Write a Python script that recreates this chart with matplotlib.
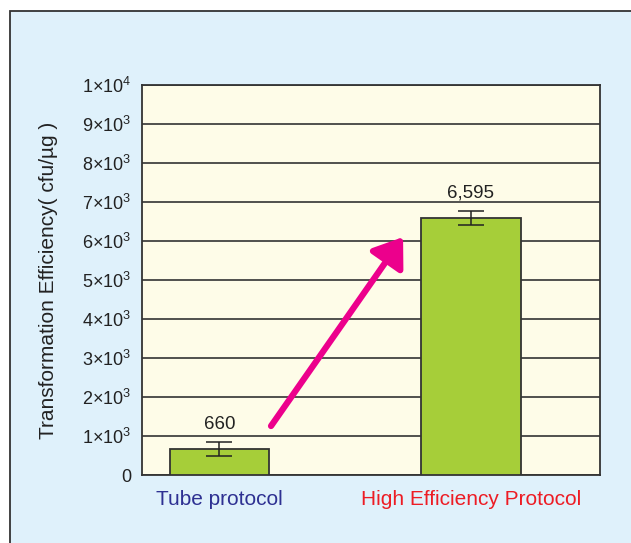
import matplotlib
matplotlib.use("Agg")
import matplotlib.pyplot as plt
from matplotlib.patches import Rectangle, FancyArrowPatch

plt.rcParams['font.family'] = ['Liberation Sans', 'DejaVu Sans']
plt.rcParams['mathtext.fontset'] = 'custom'
plt.rcParams['mathtext.rm'] = 'Liberation Sans'
plt.rcParams['mathtext.it'] = 'Liberation Sans:italic'

# data
categories = ["Tube protocol", "High Efficiency Protocol"]
values = [660, 6595]
errors = [185, 180]
value_labels = ["660", "6,595"]
cat_colors = ["#2E3192", "#ED1C24"]
yticks = [0, 1000, 2000, 3000, 4000, 5000, 6000, 7000, 8000, 9000, 10000]
ytick_labels = ["0"] + [r"$\mathregular{%d{\times}10^{3}}$" % i for i in range(1, 10)] + [r"$\mathregular{1{\times}10^{4}}$"]

W, H = 631, 543
fig = plt.figure(figsize=(W / 100, H / 100), dpi=100)
fig.patch.set_facecolor("white")

# light blue outer panel
fig.patches.append(Rectangle((10 / W, -0.05), 1.2, 1 - 11 / H + 0.05,
                             transform=fig.transFigure, facecolor="#DFF1FB",
                             edgecolor="#333333", linewidth=1.3, zorder=-1))

ax = fig.add_axes([142 / W, 1 - 475 / H, 458 / W, 390 / H])
ax.set_zorder(2)
ax.set_facecolor("#FEFCE8")

x = [0, 1]
ax.bar(x, values, width=0.395, color="#A6CE39", edgecolor="#333333",
       linewidth=1.3, zorder=3)
ax.errorbar(x, values, yerr=errors, fmt="none", ecolor="#222222",
            elinewidth=1.1, capsize=9.5, capthick=1.1, zorder=4)
for xi, v, e, lab in zip(x, values, errors, value_labels):
    ax.text(xi, v + e + 230, lab, ha="center", va="bottom", fontsize=13.5, color="#222222")

ax.set_xlim(-0.308, 1.513)
ax.set_ylim(0, 10000)
ax.set_yticks(yticks)
ax.set_yticklabels(ytick_labels, fontsize=13, color="#222222")
ax.tick_params(axis="y", length=0, pad=8)
ax.set_xticks(x)
ax.set_xticklabels(categories, fontsize=15)
for t, c in zip(ax.get_xticklabels(), cat_colors):
    t.set_color(c)
ax.tick_params(axis="x", length=0, pad=11)
ax.yaxis.grid(True, color="#333333", linewidth=1.2, zorder=1)
ax.set_axisbelow(True)
for s in ax.spines.values():
    s.set_color("#333333")
    s.set_linewidth(1.3)

ax.set_ylabel("Transformation Efficiency( cfu/µg )", fontsize=15, color="#222222", labelpad=17)

arrow = FancyArrowPatch((0.205, 1256), (0.73, 6100), arrowstyle="-|>,head_length=7,head_width=5",
                        color="#EC008C", linewidth=4.5, mutation_scale=2.4, zorder=5,
                        shrinkA=0, shrinkB=0)
ax.add_patch(arrow)

fig.savefig("out.png", dpi=100)
